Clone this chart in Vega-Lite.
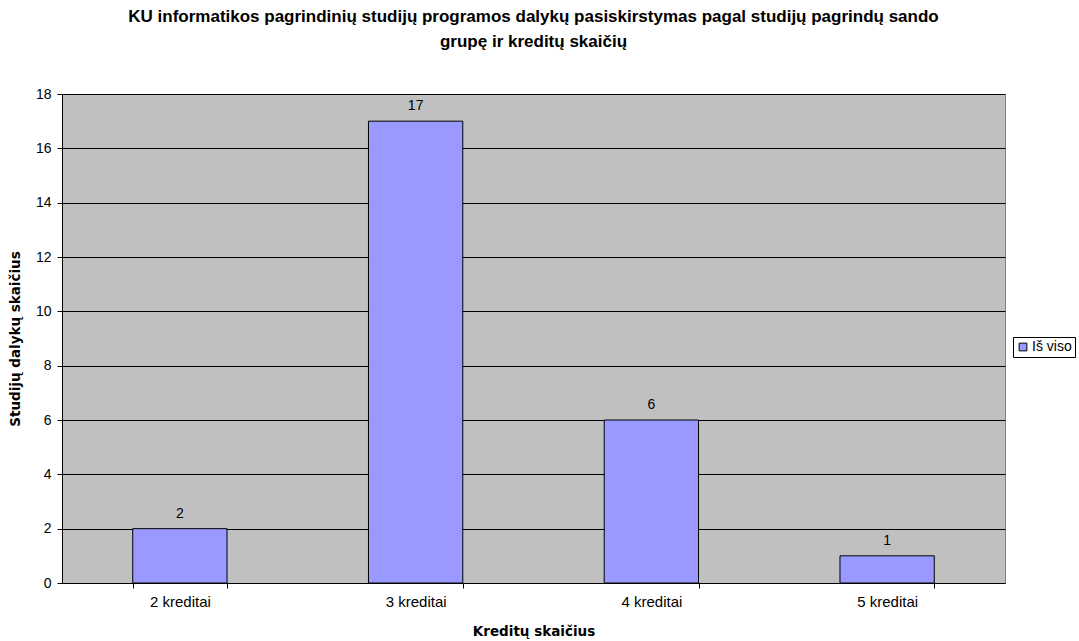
{
  "$schema": "https://vega.github.io/schema/vega-lite/v6.json",
  "autosize": {"type": "none"},
  "width": 943,
  "height": 489,
  "padding": {"left": 62, "top": 94, "right": 74, "bottom": 58},
  "background": "white",
  "config": {
    "font": "Liberation Sans",
    "view": {"fill": "#C0C0C0", "stroke": "#808080", "strokeWidth": 1}
  },
  "title": {
    "text": ["KU informatikos pagrindinių studijų programos dalykų pasiskirstymas pagal studijų pagrindų sando", "grupę ir kreditų skaičių"],
    "fontSize": 17,
    "fontWeight": "bold",
    "color": "black",
    "lineHeight": 25,
    "anchor": "middle",
    "offset": 36,
    "font": "Liberation Sans"
  },
  "data": {
    "values": [
      {"kreditai": "2 kreditai", "count": 2, "series": "Iš viso"},
      {"kreditai": "3 kreditai", "count": 17, "series": "Iš viso"},
      {"kreditai": "4 kreditai", "count": 6, "series": "Iš viso"},
      {"kreditai": "5 kreditai", "count": 1, "series": "Iš viso"}
    ]
  },
  "encoding": {
    "x": {
      "field": "kreditai", "type": "nominal",
      "scale": {"paddingInner": 0.6, "paddingOuter": 0.3},
      "axis": {
        "title": "Kreditų skaičius", "titleFont": "DejaVu Sans", "titleFontSize": 13.5, "titleFontWeight": "bold", "titleColor": "black",
        "titlePadding": 15,
        "labelAngle": 0, "labelFont": "Liberation Sans", "labelFontSize": 15, "labelColor": "black", "labelPadding": 6,
        "tickBand": "extent", "tickColor": "black", "tickSize": 5,
        "domainColor": "black", "grid": false
      }
    },
    "y": {
      "field": "count", "type": "quantitative",
      "scale": {"domain": [0, 18]},
      "axis": {
        "title": "Studijų dalykų skaičius", "titleFont": "DejaVu Sans", "titleFontSize": 13.5, "titleFontWeight": "bold", "titleColor": "black",
        "titlePadding": 13,
        "values": [0, 2, 4, 6, 8, 10, 12, 14, 16, 18],
        "labelFont": "Liberation Sans", "labelFontSize": 14, "labelColor": "black", "labelPadding": 6,
        "tickColor": "black", "tickSize": 5, "domainColor": "black",
        "grid": true, "gridColor": "black", "gridOpacity": 1, "gridWidth": 1
      }
    }
  },
  "layer": [
    {
      "mark": {"type": "bar", "stroke": "black", "strokeWidth": 1},
      "encoding": {
        "color": {
          "field": "series", "type": "nominal",
          "scale": {"range": ["#9999FF"]},
          "legend": {
            "title": null, "orient": "none", "legendX": 951, "legendY": 243,
            "symbolType": "square", "symbolSize": 60, "symbolStrokeColor": "black", "symbolStrokeWidth": 1,
            "labelFont": "Liberation Sans", "labelFontSize": 14, "labelColor": "black", "labelOffset": 2,
            "strokeColor": "black", "fillColor": "white", "padding": 3, "cornerRadius": 0
          }
        }
      }
    },
    {
      "mark": {"type": "text", "dy": -15, "fontSize": 14, "color": "black", "font": "Liberation Sans"},
      "encoding": {"text": {"field": "count", "type": "quantitative"}}
    }
  ]
}
